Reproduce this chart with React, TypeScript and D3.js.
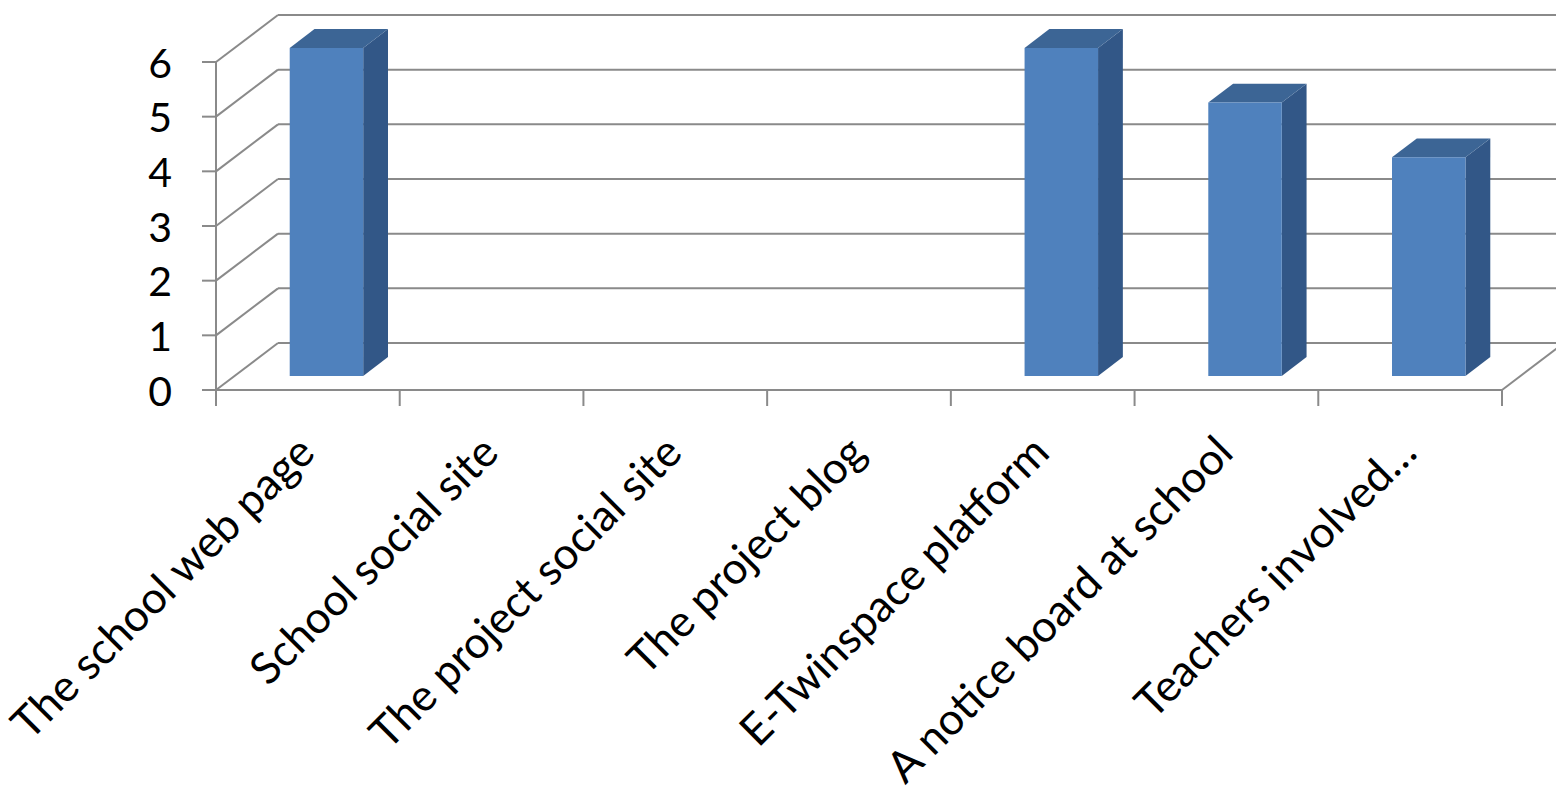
import React from "react";
import * as d3 from "d3";

const categories: string[] = [
  "The school web page",
  "School social site",
  "The project social site",
  "The project blog",
  "E-Twinspace platform",
  "A notice board at school",
  "Teachers involved…",
];
const values: number[] = [6, 0, 0, 0, 6, 5, 4];
const yTicks: number[] = [0, 1, 2, 3, 4, 5, 6];

const W = 1556;
const H = 793;
const X0 = 216;
const X1 = 1502;
const Y0 = 390;
const Y1 = 62;
const DX = 62;
const DY = -47;
const FRONT_D = 0.3;
const BACK_D = 0.7;
const GRID = "#8a8a8a";
const FONT = "Lato, 'Open Sans', sans-serif";

export default function App() {
  const x = d3.scaleBand<string>().domain(categories).range([X0, X1]).paddingInner(0).paddingOuter(0);
  const y = d3.scaleLinear().domain([0, 6]).range([Y0, Y1]);
  const bw = x.bandwidth();
  const barW = bw * 0.4;
  const p = (px: number, py: number, d: number): [number, number] => [px + d * DX, py + d * DY];
  const poly = (pts: [number, number][]) => pts.map((q) => q.join(",")).join(" ");
  const catTicks = categories.map((c) => x(c) as number).concat([X1]);

  return (
    <svg width={W} height={H} style={{ position: "absolute", left: 0, top: 0, background: "#fff" }}>
      <g stroke={GRID} strokeWidth={2} fill="none">
        {yTicks.map((v) => {
          const a = p(X0, y(v), 0);
          const b = p(X0, y(v), 1);
          const c = p(X1, y(v), 1);
          return (
            <g key={v}>
              <line x1={a[0]} y1={a[1]} x2={b[0]} y2={b[1]} />
              <line x1={b[0]} y1={b[1]} x2={c[0]} y2={c[1]} />
              <line x1={X0 - 14} y1={y(v)} x2={X0} y2={y(v)} />
            </g>
          );
        })}
        <line x1={X0} y1={Y0} x2={X1} y2={Y0} />
        <line x1={X1} y1={Y0} x2={p(X1, Y0, 1)[0]} y2={p(X1, Y0, 1)[1]} />
        <line x1={X0} y1={Y1} x2={X0} y2={Y0 + 16} />
        {catTicks.map((t, i) => (
          <line key={i} x1={t} y1={Y0} x2={t} y2={Y0 + 16} />
        ))}
      </g>
      {categories.map((c, i) => {
        const v = values[i];
        if (!v) return null;
        const cx = (x(c) as number) + bw / 2;
        const l = cx - barW / 2;
        const r = cx + barW / 2;
        const ft = y(v);
        const fb = y(0);
        const FTL = p(l, ft, FRONT_D);
        const FTR = p(r, ft, FRONT_D);
        const FBL = p(l, fb, FRONT_D);
        const FBR = p(r, fb, FRONT_D);
        const BTL = p(l, ft, BACK_D);
        const BTR = p(r, ft, BACK_D);
        const BBR = p(r, fb, BACK_D);
        return (
          <g key={c}>
            <polygon points={poly([FTR, BTR, BBR, FBR])} fill="#325787" />
            <polygon points={poly([FTL, BTL, BTR, FTR])} fill="#3c6595" />
            <polygon points={poly([FTL, FTR, FBR, FBL])} fill="#4f81bd" />
          </g>
        );
      })}
      <g fontFamily={FONT} fontSize={41} fill="#000">
        {yTicks.map((v) => (
          <text key={v} x={172} y={y(v)} textAnchor="end" dominantBaseline="central">
            {v}
          </text>
        ))}
      </g>
      <g fontFamily={FONT} fontSize={44} fill="#000">
        {categories.map((c) => {
          const tx = (x(c) as number) + bw / 2 + 9;
          const ty = 455;
          return (
            <text key={c} x={tx} y={ty} textAnchor="end" transform={`rotate(-45 ${tx} ${ty})`}>
              {c}
            </text>
          );
        })}
      </g>
    </svg>
  );
}
